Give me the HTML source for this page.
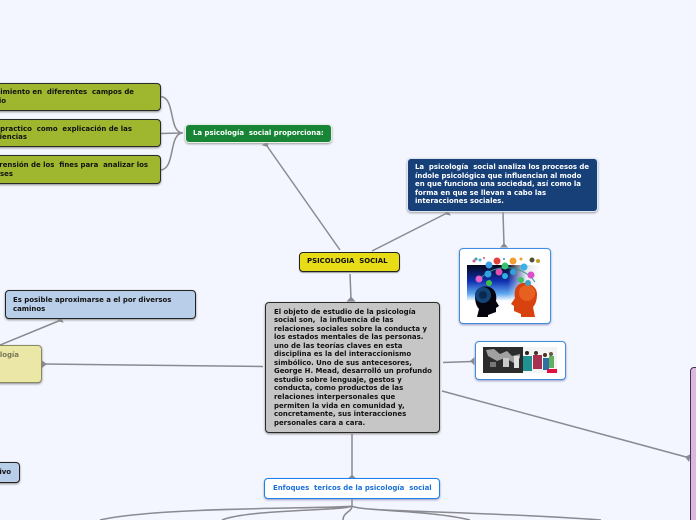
<!DOCTYPE html>
<html><head><meta charset="utf-8">
<style>
html,body{margin:0;padding:0;background:#f3f6ff;width:696px;height:520px;overflow:hidden}
#w{position:absolute;left:0;top:0;width:696px;height:520px;overflow:hidden;font-family:"DejaVu Sans","Liberation Sans",sans-serif;font-weight:bold;font-size:6.95px}
.n{position:absolute;box-sizing:border-box;border-radius:4px}
.t{position:absolute;white-space:nowrap;line-height:9px}
svg{position:absolute;left:0;top:0}
</style></head><body><div id="w">
<svg width="696" height="520" fill="none" stroke="#8a8a90" stroke-width="1.5">
<path d="M160 96.5C176 96.5 168 133 183 133M160 133.5L183 133M160 170C176 170 168 133 183 133"/>
<path d="M340 250L267 146M372 251L447 213M503 212L504 245M350 274L351 299M263 366.5L45 364M61 320L0 345M443 362.5L472 361.5M442 391L688 457.5M352 434V476"/>
<path d="M352 499V506C345 509 160 506 100 520M352 506C345 511 250 509 222 520M352 506C352 512 343 512 343 520M352 506C358 512 480 511 601 520M352 506C358 511 430 510 470 520"/>
<g fill="#8a8a90" stroke="none">
<path d="M261.7 145.3L268.3 140.7L268 147Z"/>
<path d="M450.8 215.6L447.2 208.4L444.5 214.3Z"/>
<path d="M500 247.5H508L504 243Z"/>
<path d="M346.5 301.5H355.5L351 296.5Z"/>
<path d="M42 360.5V368L47 364Z"/>
<path d="M63.6 322.7L60.4 315.3L57.5 321Z"/>
<path d="M474.5 357V365.5L470 361Z"/>
<path d="M691 454L689 462L685 456.7Z"/>
<path d="M348 478.5H356L352 474.5Z"/>
</g>
</svg>

<div class="n" style="left:-10px;top:83px;width:171px;height:28px;background:#9fb72f;border:1.5px solid #2a2a2a;box-shadow:0 1px 2px #888"></div>
<div class="t" style="right:562px;top:88px;color:#111">Reconocimiento en&nbsp; diferentes&nbsp; campos de</div>
<div class="t" style="right:690px;top:97px;color:#111">estudio</div>
<div class="n" style="left:-10px;top:119px;width:171px;height:28px;background:#9fb72f;border:1.5px solid #2a2a2a;box-shadow:0 1px 2px #888"></div>
<div class="t" style="right:564px;top:125px;color:#111">practico&nbsp; como&nbsp; explicación de las</div>
<div class="t" style="right:669px;top:133px;color:#111">iencias</div>
<div class="n" style="left:-10px;top:155px;width:171px;height:29px;background:#9fb72f;border:1.5px solid #2a2a2a;box-shadow:0 1px 2px #888"></div>
<div class="t" style="right:548px;top:161px;color:#111">comprensión de los&nbsp; fines para&nbsp; analizar los</div>
<div class="t" style="right:683px;top:170px;color:#111">ses</div>

<div class="n" style="left:185px;top:124px;width:147px;height:19px;background:#178535;border:1px solid #e8f0e8;box-shadow:0 1px 2px #999"></div>
<div class="t" style="left:193px;top:129px;color:#fff">La psicología&nbsp; social proporciona:</div>

<div class="n" style="left:407px;top:158px;width:191px;height:54px;background:#174079;border:1px solid #dfe6f0;box-shadow:0 1px 2px #999"></div>
<div class="t" style="left:415px;top:163px;color:#fff;line-height:8.6px">La&nbsp; psicología&nbsp; social analiza los procesos de<br>índole psicológica que influencian al modo<br>en que funciona una sociedad, así como la<br>forma en que se llevan a cabo las<br>interacciones sociales.</div>

<div class="n" style="left:459px;top:248px;width:92px;height:76px;background:#fff;border:1.5px solid #3f8de0;box-shadow:0 1px 2px #99b"></div>
<svg width="696" height="520">
<defs><linearGradient id="g" x1="0" y1="0" x2="0" y2="1"><stop offset="0" stop-color="#05051a"/><stop offset=".45" stop-color="#1030b0"/><stop offset=".8" stop-color="#60a8f0"/><stop offset="1" stop-color="#fff"/></linearGradient>
<linearGradient id="h" x1="0" y1="0" x2="1" y2="0"><stop offset="0" stop-color="#fff" stop-opacity="0"/><stop offset=".55" stop-color="#fff" stop-opacity="0"/><stop offset=".8" stop-color="#fff" stop-opacity=".9"/><stop offset="1" stop-color="#fff"/></linearGradient></defs>
<rect x="467" y="265" width="74" height="36" fill="url(#g)"/>
<rect x="467" y="265" width="74" height="36" fill="url(#h)"/>
<path d="M475 296C475 288 483 285 489 287C496 289 497 296 496 301L499 306L496 308V312L488 315V317H477L479 309C476 306 475 301 475 296Z" fill="#05050f"/>
<circle cx="483" cy="295" r="8" fill="#14457a"/><circle cx="483" cy="295" r="4" fill="#0a2a50"/>
<path d="M537 294C537 286 528 282 522 283C515 285 514 292 515 298L511 304L514 306V311L521 314V317H535L533 307C536 304 537 299 537 294Z" fill="#d8420f"/>
<circle cx="527" cy="293" r="8" fill="#e86020"/>
<path d="M478 282C490 263 522 263 535 282" stroke="#2a9a9a" fill="none"/>
<circle cx="489" cy="265" r="3.5" fill="#3a9ee8"/><circle cx="497" cy="261" r="3.5" fill="#e04040"/><circle cx="505" cy="266" r="3.5" fill="#3ac070"/><circle cx="513" cy="261" r="3.5" fill="#f0a030"/><circle cx="524" cy="267" r="3.5" fill="#3ab0e8"/><circle cx="532" cy="260" r="2.5" fill="#505030"/><circle cx="479" cy="279" r="3.5" fill="#e860c8"/><circle cx="488" cy="274" r="3.5" fill="#30a0e0"/><circle cx="499" cy="272" r="3.5" fill="#e050b0"/><circle cx="505" cy="276" r="3" fill="#30b0e0"/><circle cx="513" cy="272" r="3" fill="#30a0e0"/><circle cx="531" cy="275" r="3.5" fill="#d850c8"/><circle cx="521" cy="280" r="3" fill="#40c060"/><circle cx="489" cy="283" r="3" fill="#40c040"/><circle cx="528" cy="283" r="3" fill="#40a0c0"/><circle cx="480" cy="260" r="1.5" fill="#50b0e0"/><circle cx="538" cy="261" r="2" fill="#c0a020"/><circle cx="474" cy="261" r="1.5" fill="#e050a0"/><circle cx="476" cy="259" r="1.5" fill="#40a0a0"/><circle cx="484" cy="258" r="1" fill="#e05050"/><circle cx="504" cy="259" r="1" fill="#3090e0"/><circle cx="521" cy="259" r="1.5" fill="#f0a030"/>
</svg>

<div class="n" style="left:299px;top:252px;width:101px;height:20px;background:#e8dc16;border:1px solid #222;box-shadow:0 1px 1px #999"></div>
<div class="t" style="left:307px;top:257px;color:#111">PSICOLOGIA&nbsp; SOCIAL</div>

<div class="n" style="left:265px;top:302px;width:175px;height:131px;background:#c6c6c6;border:1.5px solid #2a2a2a;box-shadow:0 1px 2px #888"></div>
<div class="t" style="left:274px;top:307.5px;color:#111;line-height:8.55px">El objeto de estudio de la psicología<br>social son,&nbsp; la influencia de las<br>relaciones sociales sobre la conducta y<br>los estados mentales de las personas.<br>uno de las teorías claves en esta<br>disciplina es la del interaccionismo<br>simbólico. Uno de sus antecesores,<br>George H. Mead, desarrolló un profundo<br>estudio sobre lenguaje, gestos y<br>conducta, como productos de las<br>relaciones interpersonales que<br>permiten la vida en comunidad y,<br>concretamente, sus interacciones<br>personales cara a cara.</div>

<div class="n" style="left:475px;top:341px;width:91px;height:39px;background:#fff;border:1.5px solid #3f8de0;box-shadow:0 1px 2px #99b"></div>
<svg width="696" height="520">
<rect x="483" y="347" width="40" height="26" fill="#2c2c2c"/>
<path d="M486 350L494 349L500 354L507 351L512 356L520 354V358L514 363L505 358L497 361L488 356Z" fill="#a0a0a0"/>
<rect x="503" y="358" width="6" height="9" fill="#c8c8c8"/><rect x="514" y="356" width="5" height="12" fill="#e0e0e0"/><rect x="490" y="362" width="6" height="5" fill="#777"/>
<rect x="523" y="347" width="34" height="26" fill="#f4f4f4"/>
<rect x="523" y="356" width="9" height="15" fill="#209090"/><rect x="533" y="355" width="9" height="14" fill="#a83050"/><rect x="543" y="358" width="6" height="12" fill="#3070a0"/><rect x="549" y="356" width="5" height="12" fill="#60b060"/><rect x="547" y="369" width="10" height="4" fill="#e01040"/>
<circle cx="527" cy="353" r="2" fill="#222"/><circle cx="536" cy="353" r="2" fill="#432"/><circle cx="545" cy="355" r="2" fill="#432"/><circle cx="551" cy="354" r="2" fill="#654"/>
</svg>

<div class="n" style="left:5px;top:290px;width:191px;height:29px;background:#b9cee8;border:1.5px solid #222;box-shadow:0 1px 2px #888"></div>
<div class="t" style="left:13px;top:296px;color:#111;line-height:8.6px">Es posible aproximarse a el por diversos<br>caminos</div>

<div class="n" style="left:-10px;top:345px;width:52px;height:38px;background:#ebe7a6;border:1px solid #8a8a60;box-shadow:0 1px 2px #888"></div>
<div class="t" style="right:677px;top:351px;color:#77775a">Psicología</div>

<div class="n" style="left:-10px;top:462px;width:30px;height:21px;background:#b9cee8;border:1.5px solid #222;box-shadow:0 1px 2px #888"></div>
<div class="t" style="right:685px;top:468px;color:#111">Descriptivo</div>

<div class="n" style="left:690px;top:367px;width:20px;height:170px;background:#d9b8e0;border:1.5px solid #4a2a5a"></div>

<div class="n" style="left:264px;top:478px;width:176px;height:21px;background:#fff;border:1.5px solid #1f7fe8;box-shadow:0 1px 2px #99b"></div>
<div class="t" style="left:273px;top:484px;color:#1a70d8">Enfoques&nbsp; tericos de la psicología&nbsp; social</div>
</div></body></html>
